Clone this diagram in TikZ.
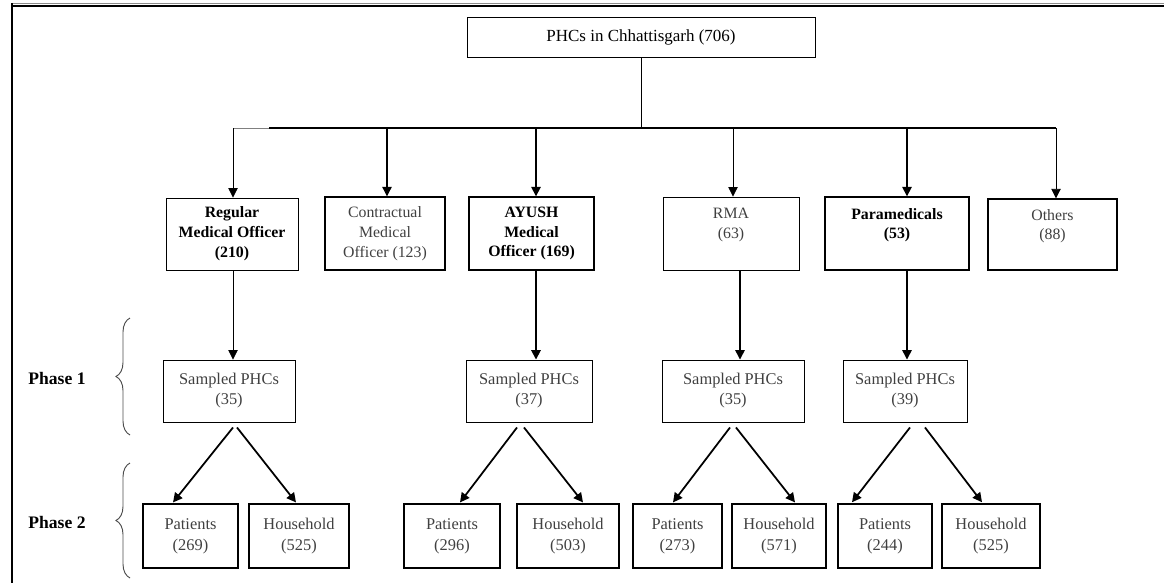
\documentclass[tikz,border=0pt]{standalone}
\usepackage{fontspec}
\setmainfont{Liberation Serif}
\usetikzlibrary{arrows.meta,positioning,calc,decorations.pathreplacing}

\begin{document}
\begin{tikzpicture}[
    x=0.03cm,y=-0.03cm,
    wh/.style 2 args={minimum width=#1*0.03cm,minimum height=#2*0.03cm},
    box/.style={draw,line width=0.8pt,inner sep=0pt,align=center,text=black!75,font=\fontsize{13.5}{17}\selectfont},
    boldbox/.style={box,line width=1.2pt,text=black,font=\fontsize{13.5}{17}\selectfont\bfseries},
    sbox/.style={box,font=\fontsize{14}{17}\selectfont},
    pbox/.style={box,line width=1pt,font=\fontsize{14}{18}\selectfont},
    phase/.style={font=\fontsize{15}{18}\selectfont\bfseries},
    arr/.style={line width=0.7pt,-{Triangle[width=8pt,length=8pt]}},
    diag/.style={arr,line width=1.5pt},
    curly/.style={decorate,decoration={brace,amplitude=0.42cm},black!70,line width=0.8pt}
]
\useasboundingbox (0,0) rectangle (1164,583);

% frame
\draw[black!45,line width=0.6pt] (12,3.2) -- (1164,3.2);
\draw[line width=2pt] (12,6) -- (1164,6);
\draw[line width=1.4pt] (12,3) -- (12,583);

% top level
\node[box,wh={348}{40},text=black,font=\fontsize{14.5}{17}\selectfont] (phc) at (641,37) {PHCs in Chhattisgarh (706)};

% cadres
\node[boldbox,line width=0.8pt,wh={132}{72}] (rmo) at (232,234) {Regular\\Medical Officer\\(210)};
\node[box,line width=1.2pt,wh={120}{73}] (cmo) at (385,233.5) {Contractual\\Medical\\Officer (123)};
\node[boldbox,wh={125}{73}] (ayush) at (531.5,233.5) {AYUSH\\Medical\\Officer (169)};
\node[box,wh={136}{73}] (rma) at (731,233.5) {RMA\\(63)\\~};
\node[boldbox,wh={144}{73}] (para) at (897,233.5) {Paramedicals\\(53)\\~};
\node[box,line width=1.2pt,wh={129}{71}] (oth) at (1052.5,234.5) {Others\\(88)\\~};

% bar
\coordinate (j1) at (233,128);
\coordinate (jc) at (269,128);
\coordinate (j2) at (387,128);
\coordinate (j3) at (536,128);
\coordinate (j4) at (733,128);
\coordinate (j5) at (907,128);
\coordinate (j6) at (1056,128);
\draw[line width=0.7pt] (phc.south) -- (phc.south |- j1);
\draw[black!50,line width=0.7pt] (j1) -- (jc);
\draw[line width=1.8pt] (jc) -- (j6);
\draw[arr] (j1) -- (j1 |- rmo.north);
\draw[arr,line width=0.9pt] (j2) -- (j2 |- cmo.north);
\draw[arr,line width=1.4pt] (j3) -- (j3 |- ayush.north);
\draw[arr] (j4) -- (j4 |- rma.north);
\draw[arr,line width=1.4pt] (j5) -- (j5 |- para.north);
\draw[arr] (j6) -- (j6 |- oth.north);

% phase 1
\node[sbox,wh={132}{62}] (s1) at (229,391) {Sampled PHCs\\(35)};
\node[sbox,wh={126}{62}] (s2) at (529,391) {Sampled PHCs\\(37)};
\node[sbox,wh={142}{62}] (s3) at (733,391) {Sampled PHCs\\(35)};
\node[sbox,wh={124}{62}] (s4) at (905,391) {Sampled PHCs\\(39)};
\draw[arr] ($(rmo.south)+(1,0)$) -- ($(s1.north)+(4,0)$);
\draw[arr,line width=1.5pt] ($(ayush.south)+(4.5,0)$) -- ($(s2.north)+(7,0)$);
\draw[arr,line width=1.2pt] ($(rma.south)+(9,0)$) -- ($(s3.north)+(7,0)$);
\draw[arr,line width=1.2pt] ($(para.south)+(10,0)$) -- ($(s4.north)+(2,0)$);

% phase 2
\node[pbox,wh={95}{64}] (pt1) at (190.5,536) {Patients\\(269)};
\node[pbox,wh={100}{64}] (hh1) at (299,536) {Household\\(525)};
\node[pbox,wh={96}{64}] (pt2) at (452,536) {Patients\\(296)};
\node[pbox,wh={102}{64}] (hh2) at (568,536) {Household\\(503)};
\node[pbox,wh={89}{64}] (pt3) at (677.5,536) {Patients\\(273)};
\node[pbox,wh={94}{64}] (hh3) at (779,536) {Household\\(571)};
\node[pbox,line width=1.3pt,wh={94}{64}] (pt4) at (885,536) {Patients\\(244)};
\node[pbox,line width=1.3pt,wh={98}{64}] (hh4) at (991,536) {Household\\(525)};

\draw[diag] ($(s1.south)+(4,5)$) -- ($(pt1.north)+(-17.5,-1)$);
\draw[diag] ($(s1.south)+(8,5)$) -- ($(hh1.north)+(-3,-1)$);
\draw[diag] ($(s2.south)+(-12,5)$) -- ($(pt2.north)+(8,-1)$);
\draw[diag] ($(s2.south)+(-5,5)$) -- ($(hh2.north)+(15,-1)$);
\draw[diag] ($(s3.south)+(-3,5)$) -- ($(pt3.north)+(-4.5,-1)$);
\draw[diag] ($(s3.south)+(3,5)$) -- ($(hh3.north)+(16,-1)$);
\draw[diag] ($(s4.south)+(5,5)$) -- ($(pt4.north)+(-33,-1)$);
\draw[diag] ($(s4.south)+(20,5)$) -- ($(hh4.north)+(-9,-1)$);

% phases
\node[phase] (ph1) at (57,378) {Phase 1};
\node[phase] (ph2) at (57,522) {Phase 2};
\draw[curly] (130,435) -- (130,318);
\draw[curly] (130,578) -- (130,463);
\end{tikzpicture}
\end{document}
